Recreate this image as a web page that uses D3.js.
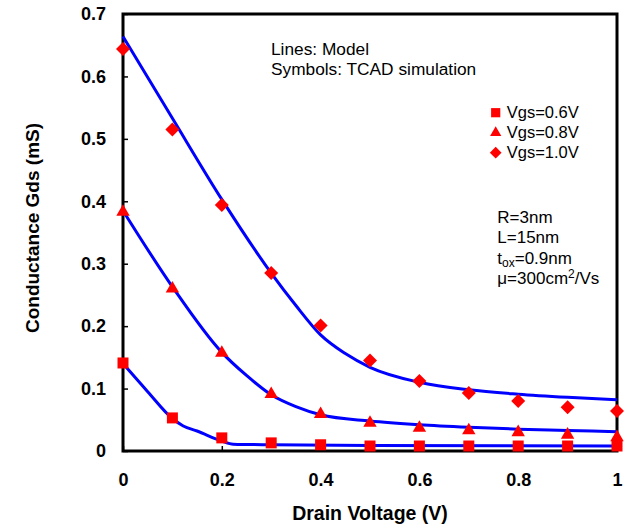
<!DOCTYPE html>
<html>
<head>
<meta charset="utf-8">
<script src="https://cdn.jsdelivr.net/npm/d3@7"></script>
<style>
  body { margin: 0; background: #fff; }
  text { font-family: "Liberation Sans", Arial, sans-serif; }
</style>
</head>
<body>
<svg id="chart" width="626" height="525"></svg>
<script>
'use strict';

// TCAD simulation points (symbols)
const vds     = [ 0, 0.1, 0.2, 0.3, 0.4, 0.5, 0.6, 0.7, 0.8, 0.9, 1.0 ];
const tcad06  = [ 0.141, 0.053, 0.021, 0.013, 0.010, 0.008, 0.008, 0.008, 0.008, 0.008, 0.008 ];
const tcad08  = [ 0.383, 0.260, 0.157, 0.091, 0.059, 0.045, 0.037, 0.033, 0.030, 0.026, 0.022 ];
const tcad10  = [ 0.644, 0.515, 0.394, 0.285, 0.201, 0.145, 0.112, 0.093, 0.080, 0.070, 0.064 ];

// model curves (lines)
const mx06 = [ 0, 0.05, 0.1, 0.122, 0.15, 0.2, 0.223, 0.3, 0.5, 1.0 ];
const m06  = [ 0.140, 0.095, 0.052, 0.040, 0.032, 0.016, 0.011, 0.010, 0.009, 0.008 ];
const mx08 = [ 0, 0.1, 0.2, 0.25, 0.3, 0.35, 0.4, 0.5, 0.6, 0.7, 0.8, 0.9, 1.0 ];
const m08  = [ 0.385, 0.263, 0.158, 0.121, 0.090, 0.071, 0.058, 0.048, 0.042, 0.038, 0.035, 0.033, 0.031 ];
const mx10 = [ 0, 0.1, 0.2, 0.3, 0.35, 0.4, 0.45, 0.5, 0.6, 0.7, 0.8, 0.9, 1.0 ];
const m10  = [ 0.664, 0.533, 0.403, 0.285, 0.233, 0.186, 0.156, 0.134, 0.110, 0.098, 0.091, 0.086, 0.082 ];

const xTicks = [ 0, 0.2, 0.4, 0.6, 0.8, 1.0 ];
const yTicks = [ 0, 0.1, 0.2, 0.3, 0.4, 0.5, 0.6, 0.7 ];
const legendLabels = [ 'Vgs=0.6V', 'Vgs=0.8V', 'Vgs=1.0V' ];

const margin = { top: 14, right: 9, bottom: 74, left: 123 },
      width  = 626 - margin.left - margin.right,
      height = 525 - margin.top - margin.bottom;

const svg = d3.select('#chart')
            .append('g')
              .attr('transform', `translate(${margin.left},${margin.top})`);

const x = d3.scaleLinear().domain([ 0, 1 ]).range([ 0, width ]),
      y = d3.scaleLinear().domain([ 0, 0.7 ]).range([ height, 0 ]);

const fmt = (d) => String(+d.toFixed(1));

// axes, ticks pointing inside
const yAxis = svg.append('g')
  .call(d3.axisLeft(y).tickValues(yTicks).tickSizeInner(-5).tickSizeOuter(0).tickPadding(17).tickFormat(fmt));
const xAxis = svg.append('g')
  .attr('transform', `translate(0,${height})`)
  .call(d3.axisBottom(x).tickValues(xTicks).tickSizeInner(-5).tickSizeOuter(0).tickPadding(22).tickFormat(fmt));

[ xAxis, yAxis ].forEach((a) => {
  a.select('.domain').remove();
  a.selectAll('line').attr('stroke', '#000').attr('stroke-width', 1.5);
  a.selectAll('text')
    .attr('fill', '#000')
    .style('font-size', '18px')
    .style('font-weight', 'bold');
});

// frame
svg.append('rect')
  .attr('width', width)
  .attr('height', height)
  .attr('fill', 'none')
  .attr('stroke', '#000')
  .attr('stroke-width', 3);

// model lines
const line = d3.line()
  .x((d) => x(d[0]))
  .y((d) => y(d[1]))
  .curve(d3.curveMonotoneX);

[ [ mx06, m06 ], [ mx08, m08 ], [ mx10, m10 ] ].forEach(([ xs, ys ]) => {
  svg.append('path')
    .datum(xs.map((v, i) => [ v, ys[i] ]))
    .attr('fill', 'none')
    .attr('stroke', '#0000ff')
    .attr('stroke-width', 3)
    .attr('d', line);
});

// symbols
const shapes = [
  { type: d3.symbolSquare,   size: 121, rot: 0 },
  { type: d3.symbolTriangle, size: 78,  rot: 0 },
  { type: d3.symbolSquare,   size: 98,  rot: 45 }
];

[ tcad06, tcad08, tcad10 ].forEach((vals, k) => {
  const s = shapes[k];
  svg.append('g')
    .selectAll('path')
    .data(vals)
    .enter().append('path')
      .attr('d', d3.symbol().type(s.type).size(s.size))
      .attr('transform', (d, i) => `translate(${x(vds[i])},${y(d)}) rotate(${s.rot})`)
      .attr('fill', '#ff0000');
});

// legend
const legend = svg.append('g')
  .attr('transform', `translate(${495.7 - margin.left},${112.7 - margin.top})`);
legendLabels.forEach((lbl, k) => {
  const s = shapes[k];
  const row = legend.append('g').attr('transform', `translate(0,${k * 20})`);
  row.append('path')
    .attr('d', d3.symbol().type(s.type).size(s.size * 0.7))
    .attr('transform', `rotate(${s.rot})`)
    .attr('fill', '#ff0000');
  row.append('text')
    .attr('x', 11)
    .attr('y', 5)
    .style('font-size', '16.5px')
    .text(lbl);
});

// notes
const note = (tx, ty, fs) => svg.append('text')
  .attr('x', tx - margin.left)
  .attr('y', ty - margin.top)
  .style('font-size', fs + 'px');

note(271, 55, 17.3).text('Lines: Model');
note(271, 75, 17.3).text('Symbols: TCAD simulation');
note(497.3, 223.3, 17).text('R=3nm');
note(497.3, 243.3, 17).text('L=15nm');
const tox = note(497.3, 263.5, 17);
tox.append('tspan').text('t');
tox.append('tspan').attr('dy', 3).style('font-size', '12px').text('ox');
tox.append('tspan').attr('dy', -3).text('=0.9nm');
const mu = note(497.3, 283.5, 17);
mu.append('tspan').text('\u03bc=300cm');
mu.append('tspan').attr('dy', -6).style('font-size', '12px').text('2');
mu.append('tspan').attr('dy', 6).text('/Vs');

// axis titles
svg.append('text')
  .attr('x', width / 2)
  .attr('y', 520 - margin.top)
  .attr('text-anchor', 'middle')
  .style('font-size', '19.5px')
  .style('font-weight', 'bold')
  .text('Drain Voltage (V)');

svg.append('text')
  .attr('transform', `translate(${39 - margin.left},${228 - margin.top}) rotate(-90)`)
  .attr('text-anchor', 'middle')
  .style('font-size', '19px')
  .style('font-weight', 'bold')
  .text('Conductance Gds (mS)');
</script>
</body>
</html>
